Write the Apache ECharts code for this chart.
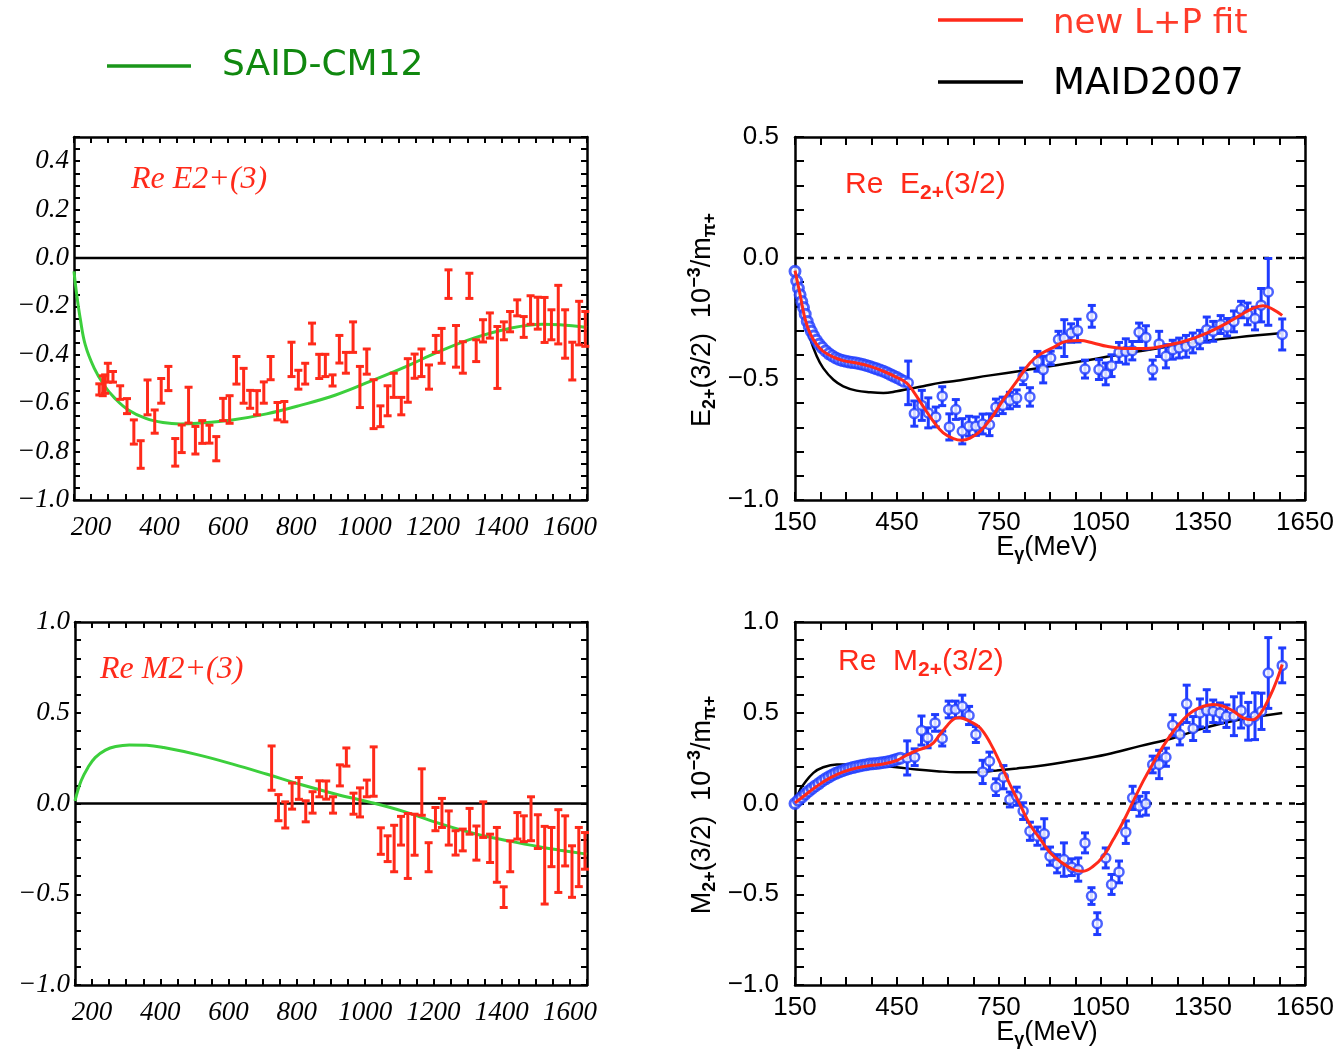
<!DOCTYPE html>
<html>
<head>
<meta charset="utf-8">
<script src="https://cdn.jsdelivr.net/npm/echarts@6/dist/echarts.min.js"></script>
<style>
  html, body { margin: 0; padding: 0; background: #fff; }
  #main { width: 1337px; height: 1053px; }
</style>
</head>
<body>
<div id="main"></div>
<script>
// ---- top left: Re E2+(3), SAID-CM12 ----
const saidE2E = [150, 158, 168, 183, 209, 239, 269, 309, 360, 410, 461, 511, 612, 713, 814, 915, 1016, 1117, 1218, 1319, 1420, 1521, 1571, 1650];
const saidE2V = [-0.055, -0.152, -0.248, -0.359, -0.455, -0.528, -0.579, -0.628, -0.663, -0.680, -0.686, -0.683, -0.669, -0.644, -0.608, -0.566, -0.510, -0.451, -0.386, -0.331, -0.292, -0.274, -0.276, -0.287];
const e2PtsE = [224, 234, 241, 249, 264, 285, 305, 325, 345, 365, 386, 405, 426, 446, 465, 485, 505, 525, 546, 566, 586, 605, 625, 646, 665, 685, 705, 725, 745, 765, 786, 806, 826, 846, 867, 885, 906, 926, 945, 966, 986, 1006, 1026, 1046, 1067, 1085, 1107, 1126, 1146, 1166, 1188, 1208, 1225, 1245, 1267, 1287, 1306, 1326, 1346, 1366, 1388, 1407, 1425, 1446, 1465, 1485, 1506, 1526, 1546, 1566, 1586, 1607, 1627, 1645];
const e2PtsV = [-0.543, -0.528, -0.521, -0.474, -0.491, -0.556, -0.612, -0.719, -0.812, -0.576, -0.676, -0.549, -0.498, -0.803, -0.747, -0.608, -0.753, -0.719, -0.728, -0.788, -0.626, -0.626, -0.464, -0.528, -0.584, -0.598, -0.556, -0.455, -0.633, -0.635, -0.419, -0.503, -0.478, -0.312, -0.448, -0.444, -0.506, -0.377, -0.433, -0.327, -0.533, -0.428, -0.604, -0.654, -0.590, -0.526, -0.612, -0.506, -0.447, -0.433, -0.492, -0.355, -0.363, -0.108, -0.365, -0.411, -0.115, -0.383, -0.301, -0.279, -0.411, -0.301, -0.263, -0.206, -0.285, -0.215, -0.228, -0.256, -0.276, -0.234, -0.314, -0.426, -0.269, -0.293];
const e2PtsErr = [0.023, 0.041, 0.038, 0.039, 0.022, 0.028, 0.031, 0.050, 0.057, 0.072, 0.048, 0.051, 0.050, 0.057, 0.057, 0.074, 0.057, 0.047, 0.037, 0.050, 0.046, 0.057, 0.057, 0.072, 0.037, 0.050, 0.044, 0.048, 0.036, 0.042, 0.071, 0.039, 0.043, 0.043, 0.050, 0.046, 0.023, 0.057, 0.043, 0.063, 0.085, 0.052, 0.101, 0.043, 0.062, 0.050, 0.036, 0.090, 0.050, 0.057, 0.050, 0.035, 0.072, 0.059, 0.086, 0.065, 0.052, 0.045, 0.046, 0.052, 0.128, 0.037, 0.042, 0.033, 0.043, 0.059, 0.066, 0.093, 0.062, 0.121, 0.100, 0.078, 0.090, 0.072];

// ---- bottom left: Re M2+(3), SAID-CM12 ----
const saidM2E = [150, 168, 188, 209, 239, 269, 309, 360, 410, 511, 612, 713, 814, 915, 1016, 1117, 1218, 1319, 1420, 1521, 1571, 1650];
const saidM2V = [0.015, 0.125, 0.198, 0.253, 0.294, 0.314, 0.323, 0.321, 0.308, 0.268, 0.217, 0.161, 0.103, 0.051, 0.006, -0.046, -0.110, -0.165, -0.206, -0.242, -0.257, -0.279];
const m2PtsE = [726, 746, 766, 786, 806, 826, 846, 866, 886, 906, 926, 945, 966, 985, 1005, 1025, 1046, 1066, 1085, 1105, 1125, 1145, 1166, 1186, 1206, 1225, 1245, 1265, 1286, 1306, 1326, 1346, 1366, 1386, 1406, 1425, 1446, 1465, 1486, 1506, 1526, 1546, 1566, 1586, 1606, 1626, 1644];
const m2PtsV = [0.195, -0.023, -0.063, 0.041, 0.083, -0.043, 0.006, 0.081, 0.074, -0.008, 0.155, 0.256, -0.001, 0.006, 0.083, 0.176, -0.207, -0.249, -0.248, -0.150, -0.234, -0.172, 0.063, -0.296, -0.086, -0.052, -0.135, -0.217, -0.201, -0.098, -0.218, -0.089, -0.247, -0.283, -0.516, -0.291, -0.123, -0.139, -0.084, -0.155, -0.340, -0.240, -0.262, -0.206, -0.375, -0.295, -0.261];
const m2PtsErr = [0.122, 0.072, 0.072, 0.072, 0.060, 0.058, 0.059, 0.044, 0.050, 0.045, 0.058, 0.050, 0.058, 0.080, 0.046, 0.136, 0.073, 0.071, 0.128, 0.079, 0.179, 0.113, 0.128, 0.080, 0.064, 0.080, 0.094, 0.067, 0.060, 0.071, 0.094, 0.098, 0.078, 0.151, 0.057, 0.085, 0.073, 0.071, 0.121, 0.093, 0.214, 0.108, 0.228, 0.138, 0.142, 0.163, 0.101];

// ---- top right: Re E2+(3/2) ----
const fitE2E = [150, 165, 179, 194, 214, 233, 263, 292, 331, 371, 410, 449, 478, 498, 527, 557, 586, 616, 640, 665, 694, 724, 763, 802, 841, 871, 910, 949, 988, 1027, 1067, 1126, 1184, 1243, 1302, 1361, 1420, 1459, 1498, 1527, 1557, 1583];
const fitE2V = [-0.052, -0.151, -0.248, -0.310, -0.358, -0.386, -0.410, -0.424, -0.434, -0.448, -0.468, -0.493, -0.516, -0.551, -0.613, -0.675, -0.723, -0.746, -0.753, -0.744, -0.716, -0.668, -0.585, -0.510, -0.434, -0.398, -0.369, -0.344, -0.341, -0.351, -0.365, -0.374, -0.374, -0.361, -0.341, -0.310, -0.269, -0.237, -0.207, -0.197, -0.213, -0.237];
const maidE2E = [150, 165, 179, 194, 214, 233, 263, 292, 331, 371, 410, 449, 488, 527, 576, 625, 724, 822, 880, 1000, 1103, 1223, 1349, 1450, 1583];
const maidE2V = [-0.052, -0.158, -0.255, -0.331, -0.406, -0.455, -0.503, -0.530, -0.548, -0.555, -0.558, -0.551, -0.540, -0.530, -0.516, -0.507, -0.485, -0.465, -0.452, -0.425, -0.399, -0.372, -0.345, -0.328, -0.310];
const denseE2E = [150, 155, 160, 165, 170, 175, 180, 186, 192, 198, 205, 213, 221, 230, 240, 250, 260, 270, 280, 290, 300, 310, 320, 330, 340, 350, 360, 370, 380, 390, 400, 410, 420, 430, 440, 450, 460, 470];
const denseE2V = [-0.055, -0.095, -0.125, -0.152, -0.180, -0.205, -0.232, -0.262, -0.285, -0.303, -0.322, -0.340, -0.356, -0.370, -0.384, -0.396, -0.405, -0.413, -0.419, -0.424, -0.427, -0.430, -0.432, -0.434, -0.437, -0.440, -0.444, -0.448, -0.453, -0.458, -0.463, -0.468, -0.474, -0.481, -0.488, -0.494, -0.502, -0.509];
const e2RPtsE = [483, 501, 523, 542, 564, 583, 604, 623, 642, 662, 682, 702, 722, 741, 761, 782, 802, 821, 841, 863, 880, 902, 925, 942, 962, 981, 1003, 1023, 1044, 1064, 1081, 1103, 1123, 1142, 1162, 1182, 1202, 1221, 1241, 1261, 1280, 1300, 1320, 1341, 1361, 1380, 1402, 1421, 1441, 1462, 1481, 1503, 1521, 1542, 1583];
const e2RPtsV = [-0.516, -0.643, -0.609, -0.640, -0.657, -0.571, -0.698, -0.626, -0.716, -0.695, -0.695, -0.686, -0.689, -0.617, -0.609, -0.589, -0.579, -0.489, -0.574, -0.427, -0.461, -0.413, -0.337, -0.331, -0.310, -0.300, -0.459, -0.241, -0.461, -0.479, -0.445, -0.390, -0.386, -0.383, -0.307, -0.328, -0.461, -0.355, -0.406, -0.379, -0.372, -0.365, -0.351, -0.337, -0.296, -0.303, -0.275, -0.286, -0.262, -0.213, -0.231, -0.250, -0.195, -0.140, -0.316];
const e2RPtsErr = [0.090, 0.052, 0.062, 0.062, 0.041, 0.039, 0.054, 0.041, 0.052, 0.041, 0.038, 0.041, 0.045, 0.034, 0.034, 0.034, 0.034, 0.034, 0.038, 0.041, 0.055, 0.028, 0.034, 0.076, 0.038, 0.047, 0.037, 0.045, 0.041, 0.045, 0.045, 0.041, 0.052, 0.038, 0.038, 0.048, 0.039, 0.052, 0.048, 0.039, 0.041, 0.045, 0.041, 0.038, 0.052, 0.041, 0.037, 0.036, 0.043, 0.034, 0.045, 0.047, 0.069, 0.138, 0.064];

// ---- bottom right: Re M2+(3/2) ----
const fitM2E = [150, 175, 214, 253, 292, 331, 371, 410, 449, 478, 508, 537, 557, 576, 596, 615, 630, 645, 664, 694, 724, 753, 782, 812, 841, 871, 900, 929, 969, 998, 1027, 1057, 1086, 1116, 1145, 1174, 1204, 1233, 1263, 1292, 1321, 1351, 1380, 1410, 1439, 1468, 1493, 1517, 1547, 1566, 1583];
const fitM2V = [0.003, 0.040, 0.095, 0.141, 0.174, 0.196, 0.209, 0.218, 0.237, 0.266, 0.292, 0.310, 0.334, 0.380, 0.426, 0.463, 0.472, 0.468, 0.453, 0.417, 0.334, 0.224, 0.105, -0.006, -0.116, -0.195, -0.270, -0.318, -0.364, -0.373, -0.346, -0.290, -0.199, -0.098, 0.013, 0.123, 0.224, 0.316, 0.398, 0.463, 0.509, 0.536, 0.545, 0.536, 0.509, 0.472, 0.461, 0.490, 0.591, 0.674, 0.766];
const maidM2E = [150, 165, 175, 204, 233, 273, 331, 390, 449, 508, 567, 625, 684, 743, 802, 861, 969, 1066, 1164, 1263, 1361, 1459, 1583];
const maidM2V = [0.0, 0.077, 0.105, 0.169, 0.200, 0.215, 0.215, 0.209, 0.200, 0.187, 0.178, 0.172, 0.172, 0.182, 0.193, 0.205, 0.237, 0.270, 0.316, 0.361, 0.420, 0.463, 0.499];
const denseM2E = [150, 160, 170, 180, 190, 200, 210, 220, 230, 240, 250, 260, 270, 280, 290, 300, 310, 320, 330, 340, 350, 360, 370, 380, 390, 400, 410, 420, 430, 440, 450, 460];
const denseM2V = [0.0, 0.018, 0.035, 0.052, 0.068, 0.083, 0.097, 0.110, 0.124, 0.136, 0.147, 0.157, 0.166, 0.174, 0.181, 0.188, 0.193, 0.198, 0.203, 0.207, 0.211, 0.214, 0.217, 0.219, 0.221, 0.223, 0.226, 0.229, 0.233, 0.238, 0.244, 0.250];
const m2RPtsE = [480, 502, 522, 540, 562, 583, 602, 622, 642, 662, 682, 702, 722, 741, 763, 782, 802, 821, 841, 863, 883, 900, 921, 941, 964, 983, 1003, 1022, 1039, 1064, 1081, 1103, 1123, 1143, 1163, 1182, 1202, 1221, 1241, 1261, 1282, 1302, 1321, 1341, 1361, 1380, 1400, 1419, 1441, 1462, 1483, 1503, 1522, 1542, 1583];
const m2RPtsV = [0.251, 0.255, 0.402, 0.362, 0.444, 0.358, 0.518, 0.518, 0.536, 0.485, 0.380, 0.174, 0.233, 0.090, 0.145, 0.022, 0.040, -0.042, -0.153, -0.180, -0.167, -0.290, -0.332, -0.309, -0.351, -0.364, -0.217, -0.510, -0.662, -0.300, -0.446, -0.377, -0.158, 0.031, -0.015, -0.002, 0.215, 0.215, 0.255, 0.431, 0.380, 0.549, 0.413, 0.499, 0.512, 0.508, 0.499, 0.481, 0.481, 0.512, 0.453, 0.481, 0.508, 0.719, 0.761];
const m2RPtsErr = [0.094, 0.046, 0.080, 0.055, 0.046, 0.041, 0.046, 0.046, 0.061, 0.050, 0.044, 0.064, 0.050, 0.046, 0.064, 0.041, 0.050, 0.046, 0.050, 0.050, 0.083, 0.050, 0.050, 0.092, 0.046, 0.064, 0.055, 0.046, 0.060, 0.055, 0.055, 0.060, 0.062, 0.064, 0.055, 0.062, 0.046, 0.078, 0.050, 0.058, 0.057, 0.103, 0.066, 0.077, 0.115, 0.062, 0.055, 0.062, 0.107, 0.096, 0.104, 0.129, 0.100, 0.195, 0.096];

// tick labels
const leftXLabels = [200, 400, 600, 800, 1000, 1200, 1400, 1600];
const rightXLabels = [150, 450, 750, 1050, 1350, 1650];
const e2LeftYLabels = [-1.0, -0.8, -0.6, -0.4, -0.2, 0.0, 0.2, 0.4];
const m2LeftYLabels = [-1.0, -0.5, 0.0, 0.5, 1.0];
const e2RightYLabels = [-1.0, -0.5, 0.0, 0.5];
const m2RightYLabels = [-1.0, -0.5, 0.0, 0.5, 1.0];

const RED = '#ff2a1a';
const BLUE = '#1f3cff';
const GREEN = '#3ccf3c';
const SERIF = 'Liberation Serif';
const SANS = 'Liberation Sans';

const pairs = (xs, ys) => xs.map((x, i) => [x, ys[i]]);
const triples = (xs, ys, es) => xs.map((x, i) => [x, ys[i], es[i]]);
const fmt = v => (v < 0 ? '\u2212' : '') + Math.abs(v).toFixed(1);

const chart = echarts.init(document.getElementById('main'));

const grids = [
  { left: 74, top: 137, width: 513, height: 363 },
  { left: 795, top: 137, width: 510, height: 363 },
  { left: 75, top: 622, width: 512, height: 363 },
  { left: 795, top: 622, width: 510, height: 363 }
];

const serifLabel = { fontFamily: SERIF, fontStyle: 'italic', fontSize: 27, color: '#000' };
const sansLabel = { fontFamily: SANS, fontSize: 26, color: '#000' };

function xAxis(g, serif, mirror) {
  return {
    type: 'value', gridIndex: g, min: 150, max: 1650,
    interval: serif ? 50 : 75,
    position: mirror ? 'top' : 'bottom',
    axisLine: { show: true, onZero: false, lineStyle: { color: '#000', width: 2.5 } },
    axisTick: { show: true, inside: true, length: serif ? 6 : 8, lineStyle: { color: '#000', width: 2 } },
    axisLabel: mirror ? { show: false } : Object.assign({
      margin: serif ? 14 : 10,
      customValues: serif ? leftXLabels : rightXLabels,
      formatter: v => String(v)
    }, serif ? serifLabel : sansLabel),
    splitLine: { show: false }
  };
}

function yAxis(g, serif, min, max, labels, mirror) {
  return {
    type: 'value', gridIndex: g, min: min, max: max,
    interval: serif && labels.length > 5 ? 0.05 : 0.1,
    position: mirror ? 'right' : 'left',
    axisLine: { show: true, onZero: false, lineStyle: { color: '#000', width: 2.5 } },
    axisTick: { show: true, inside: true, length: serif ? 6 : 9, lineStyle: { color: '#000', width: 2 } },
    axisLabel: mirror ? { show: false } : Object.assign({
      margin: serif ? 5 : 16,
      customValues: labels,
      formatter: fmt
    }, serif ? serifLabel : sansLabel),
    splitLine: { show: false }
  };
}

function errorBars(g, data, color, cap, width) {
  return {
    type: 'custom', xAxisIndex: g, yAxisIndex: g, z: 4,
    data: data,
    renderItem: function (params, api) {
      const x = api.value(0), y = api.value(1), e = api.value(2);
      const hi = api.coord([x, y + e]);
      const lo = api.coord([x, y - e]);
      const style = { stroke: color, lineWidth: width };
      return {
        type: 'group',
        children: [
          { type: 'line', shape: { x1: hi[0], y1: hi[1], x2: lo[0], y2: lo[1] }, style: style },
          { type: 'line', shape: { x1: hi[0] - cap, y1: hi[1], x2: hi[0] + cap, y2: hi[1] }, style: style },
          { type: 'line', shape: { x1: lo[0] - cap, y1: lo[1], x2: lo[0] + cap, y2: lo[1] }, style: style }
        ]
      };
    }
  };
}

function curve(g, data, color, width, z) {
  return {
    type: 'line', xAxisIndex: g, yAxisIndex: g, data: data, smooth: 0.4,
    showSymbol: false, symbol: 'none', z: z || 5,
    lineStyle: { color: color, width: width }
  };
}

function zeroLine(g, dashed) {
  return {
    type: 'line', xAxisIndex: g, yAxisIndex: g, data: [[150, 0], [1650, 0]],
    showSymbol: false, symbol: 'none', z: 2,
    lineStyle: { color: '#000', width: 2.5, type: dashed ? [6, 7] : 'solid' }
  };
}

function circles(g, data, size, border) {
  return {
    type: 'scatter', xAxisIndex: g, yAxisIndex: g, data: data, z: 6,
    symbol: 'circle', symbolSize: size,
    itemStyle: { color: '#fff', borderColor: BLUE, borderWidth: border }
  };
}

const subRich = {
  n: { fontFamily: SANS, fontSize: 30, fill: RED },
  s: { fontFamily: SANS, fontSize: 21, fill: RED, fontWeight: 'bold', padding: [17, 0, 0, 0] }
};
const axisRich = {
  n: { fontFamily: SANS, fontSize: 27, fill: '#000' },
  s: { fontFamily: SANS, fontSize: 18, fill: '#000', fontWeight: 'bold', padding: [15, 0, 0, 0] },
  u: { fontFamily: SANS, fontSize: 18, fill: '#000', fontWeight: 'bold', padding: [0, 0, 15, 0] }
};

function legendLine(x1, x2, y, color) {
  return { type: 'line', shape: { x1: x1, y1: y, x2: x2, y2: y }, style: { stroke: color, lineWidth: 3.5 } };
}
function plainText(x, y, text, font, color, size, italic) {
  return {
    type: 'text', x: x, y: y,
    style: { text: text, fontFamily: font, fontSize: size, fill: color, fontStyle: italic ? 'italic' : 'normal', verticalAlign: 'middle' }
  };
}
function richText(x, y, text, rich, rot) {
  return {
    type: 'text', x: x, y: y, rotation: rot || 0,
    style: { text: text, rich: rich, align: rot ? 'center' : 'left', verticalAlign: 'middle' }
  };
}

chart.setOption({
  animation: false,
  backgroundColor: '#fff',
  grid: grids,
  xAxis: [
    xAxis(0, true, false), xAxis(1, false, false), xAxis(2, true, false), xAxis(3, false, false),
    xAxis(0, true, true), xAxis(1, false, true), xAxis(2, true, true), xAxis(3, false, true)
  ],
  yAxis: [
    yAxis(0, true, -1, 0.5, e2LeftYLabels, false),
    yAxis(1, false, -1, 0.5, e2RightYLabels, false),
    yAxis(2, true, -1, 1, m2LeftYLabels, false),
    yAxis(3, false, -1, 1, m2RightYLabels, false),
    yAxis(0, true, -1, 0.5, e2LeftYLabels, true),
    yAxis(1, false, -1, 0.5, e2RightYLabels, true),
    yAxis(2, true, -1, 1, m2LeftYLabels, true),
    yAxis(3, false, -1, 1, m2RightYLabels, true)
  ],
  series: [
    // top left
    zeroLine(0, false),
    curve(0, pairs(saidE2E, saidE2V), GREEN, 3, 3),
    errorBars(0, triples(e2PtsE, e2PtsV, e2PtsErr), RED, 4, 3),
    // bottom left
    zeroLine(2, false),
    curve(2, pairs(saidM2E, saidM2V), GREEN, 3, 3),
    errorBars(2, triples(m2PtsE, m2PtsV, m2PtsErr), RED, 4, 3),
    // top right
    zeroLine(1, true),
    curve(1, pairs(maidE2E, maidE2V), '#000', 2.5, 3),
    circles(1, pairs(denseE2E, denseE2V), 10, 3),
    errorBars(1, triples(e2RPtsE, e2RPtsV, e2RPtsErr), BLUE, 4, 3),
    circles(1, pairs(e2RPtsE, e2RPtsV), 9, 2.5),
    curve(1, pairs(fitE2E, fitE2V), RED, 3, 8),
    // bottom right
    zeroLine(3, true),
    curve(3, pairs(maidM2E, maidM2V), '#000', 2.5, 3),
    circles(3, pairs(denseM2E, denseM2V), 10, 3),
    errorBars(3, triples(m2RPtsE, m2RPtsV, m2RPtsErr), BLUE, 4, 3),
    circles(3, pairs(m2RPtsE, m2RPtsV), 9, 2.5),
    curve(3, pairs(fitM2E, fitM2V), RED, 3, 8)
  ],
  graphic: [
    legendLine(107, 191, 66, '#1a961a'),
    plainText(222, 66, 'SAID-CM12', 'DejaVu Sans', '#10880f', 36),
    legendLine(938, 1023, 20, RED),
    plainText(1053, 24, 'new L+P fit', 'DejaVu Sans', '#ff3b2a', 34),
    legendLine(938, 1023, 82, '#000'),
    plainText(1053, 84, 'MAID2007', 'DejaVu Sans', '#000', 37),
    plainText(131, 180, 'Re E2+(3)', SERIF, RED, 32, true),
    plainText(100, 670, 'Re M2+(3)', SERIF, RED, 32, true),
    richText(845, 185, '{n|Re  E}{s|2+}{n|(3/2)}', subRich),
    richText(838, 662, '{n|Re  M}{s|2+}{n|(3/2)}', subRich),
    richText(703, 320, '{n|E}{s|2+}{n|(3/2)  10}{u|\u22123}{n|/m}{s|\u03c0+}', axisRich, Math.PI / 2),
    richText(703, 805, '{n|M}{s|2+}{n|(3/2)  10}{u|\u22123}{n|/m}{s|\u03c0+}', axisRich, Math.PI / 2),
    richText(1047, 548, '{n|E}{s|\u03b3}{n|(MeV)}', axisRich, 0.0001),
    richText(1047, 1033, '{n|E}{s|\u03b3}{n|(MeV)}', axisRich, 0.0001)
  ]
});
</script>
</body>
</html>
